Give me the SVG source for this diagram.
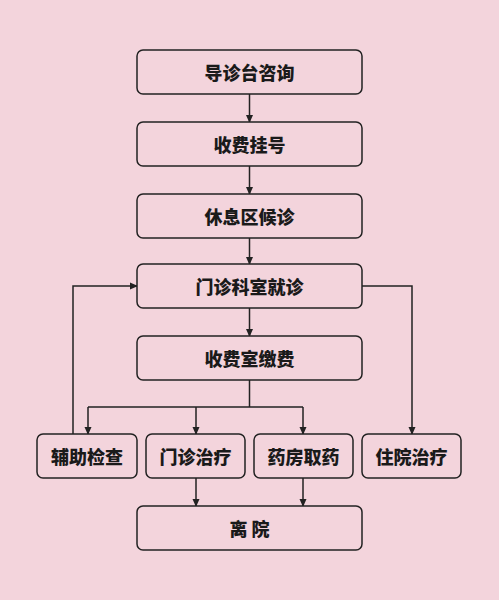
<svg xmlns="http://www.w3.org/2000/svg" width="499" height="600" viewBox="0 0 499 600">
<style>
.box{fill:#f3d4dc;stroke:#222;stroke-width:1.5}
.t{font-family:"Noto Sans CJK SC","Noto Sans",sans-serif;font-weight:900;font-size:18px;fill:#1a1a1a;text-anchor:middle;dominant-baseline:central}
.c{fill:none;stroke:#222;stroke-width:1.5}
</style>
<defs>
<marker id="a" markerWidth="8" markerHeight="8" refX="7" refY="4" orient="auto" markerUnits="userSpaceOnUse">
<path d="M0,0.5 L8,4 L0,7.5 Z" fill="#222"/>
</marker>
</defs>
<rect width="499" height="600" fill="#f3d4dc"/>
<g id="connectors">
<path class="c" d="M249.5,94 V122" marker-end="url(#a)"/>
<path class="c" d="M249.5,166 V194" marker-end="url(#a)"/>
<path class="c" d="M249.5,238 V264" marker-end="url(#a)"/>
<path class="c" d="M249.5,308 V336" marker-end="url(#a)"/>
<path class="c" d="M249.5,380 V407 M88,407 H303"/>
<path class="c" d="M88,407 V434" marker-end="url(#a)"/>
<path class="c" d="M196,407 V434" marker-end="url(#a)"/>
<path class="c" d="M303,407 V434" marker-end="url(#a)"/>
<path class="c" d="M73,434 V286 H137" marker-end="url(#a)"/>
<path class="c" d="M362,286 H412 V434" marker-end="url(#a)"/>
<path class="c" d="M196,478 V506" marker-end="url(#a)"/>
<path class="c" d="M303,478 V506" marker-end="url(#a)"/>
</g>
<g id="n1"><rect class="box" x="137" y="50" width="225" height="44" rx="6"/><text class="t" x="249.5" y="72">导诊台咨询</text></g>
<g id="n2"><rect class="box" x="137" y="122" width="225" height="44" rx="6"/><text class="t" x="249.5" y="144">收费挂号</text></g>
<g id="n3"><rect class="box" x="137" y="194" width="225" height="44" rx="6"/><text class="t" x="249.5" y="216">休息区候诊</text></g>
<g id="n4"><rect class="box" x="137" y="264" width="225" height="44" rx="6"/><text class="t" x="249.5" y="286">门诊科室就诊</text></g>
<g id="n5"><rect class="box" x="137" y="336" width="225" height="44" rx="6"/><text class="t" x="249.5" y="358">收费室缴费</text></g>
<g id="n6"><rect class="box" x="37" y="434" width="100" height="44" rx="6"/><text class="t" x="87" y="456">辅助检查</text></g>
<g id="n7"><rect class="box" x="146" y="434" width="99" height="44" rx="6"/><text class="t" x="195.5" y="456">门诊治疗</text></g>
<g id="n8"><rect class="box" x="254" y="434" width="99" height="44" rx="6"/><text class="t" x="303.5" y="456">药房取药</text></g>
<g id="n9"><rect class="box" x="362" y="434" width="99" height="44" rx="6"/><text class="t" x="411.5" y="456">住院治疗</text></g>
<g id="n10"><rect class="box" x="137" y="506" width="225" height="44" rx="6"/><text class="t" x="249.5" y="528" xml:space="preserve">离 院</text></g>
</svg>
